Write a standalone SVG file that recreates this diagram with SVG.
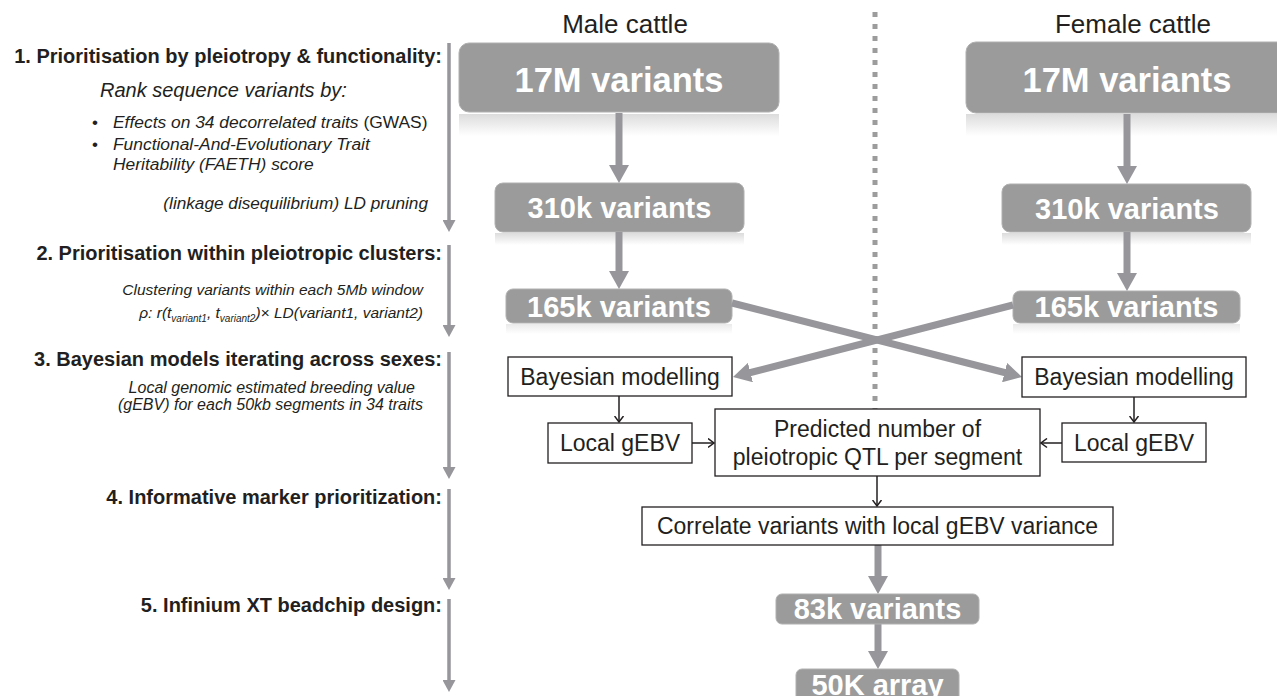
<svg xmlns="http://www.w3.org/2000/svg" width="1277" height="696" viewBox="0 0 1277 696">
<style>
text{font-family:"Liberation Sans",Arial,sans-serif;fill:#231f20}
.h{font-weight:bold;font-size:20px;text-anchor:end}
.it{font-style:italic}
.gb{fill:#9b9b9b;stroke:#b0b0b0;stroke-width:1}
.gt{fill:#ffffff;font-weight:bold;text-anchor:middle}
.wb{fill:#ffffff;stroke:#231f20;stroke-width:1.3}
.wt{font-size:23px;text-anchor:middle}
.garr{stroke:#96969b;stroke-width:7;fill:none;marker-end:url(#gh)}
.larr{stroke:#96969b;stroke-width:3.5;fill:none;marker-end:url(#lh)}
.barr{stroke:#231f20;stroke-width:1.5;fill:none;marker-end:url(#bh)}
.title{font-size:26px;text-anchor:middle}
</style>
<defs>
<marker id="gh" markerUnits="userSpaceOnUse" markerWidth="18" markerHeight="20" refX="8" refY="10" orient="auto" viewBox="0 0 18 20">
<path d="M0,0 L18,10 L0,20 z" fill="#96969b"/>
</marker>
<marker id="lh" markerUnits="userSpaceOnUse" markerWidth="12" markerHeight="13" refX="4" refY="6.5" orient="auto" viewBox="0 0 12 13">
<path d="M0,0 L12,6.5 L0,13 z" fill="#96969b"/>
</marker>
<marker id="bh" markerUnits="userSpaceOnUse" markerWidth="8" markerHeight="11" refX="6.5" refY="5.5" orient="auto" viewBox="0 0 8 11">
<path d="M0.5,1 L6.5,5.5 L0.5,10" fill="none" stroke="#231f20" stroke-width="1.5"/>
</marker>
<linearGradient id="refl" x1="0" y1="0" x2="0" y2="1">
<stop offset="0" stop-color="#dcdcdc"/>
<stop offset="1" stop-color="#ffffff"/>
</linearGradient>
</defs>
<rect width="1277" height="696" fill="#ffffff"/>

<g id="left-steps">
<text class="h" x="442" y="63">1. Prioritisation by pleiotropy &amp; functionality:</text>
<text class="it" x="100" y="97" font-size="20">Rank sequence variants by:</text>
<text x="92" y="128" font-size="17">•</text>
<text class="it" x="113" y="128" font-size="17.4">Effects on 34 decorrelated traits <tspan font-style="normal">(GWAS)</tspan></text>
<text x="92" y="150" font-size="17">•</text>
<text class="it" x="113" y="150" font-size="17.4">Functional-And-Evolutionary Trait</text>
<text class="it" x="113" y="170" font-size="17.4">Heritability (FAETH) score</text>
<text class="it" x="428" y="209" font-size="17.2" text-anchor="end">(linkage disequilibrium) LD pruning</text>

<text class="h" x="442" y="260">2. Prioritisation within pleiotropic clusters:</text>
<text class="it" x="423" y="295" font-size="15.5" text-anchor="end">Clustering variants within each 5Mb window</text>
<text class="it" x="423" y="318" font-size="15.5" text-anchor="end">ρ: r(t<tspan font-size="10" dy="4">variant1</tspan><tspan dy="-4">, t</tspan><tspan font-size="10" dy="4">variant2</tspan><tspan dy="-4">)× LD(variant1, variant2)</tspan></text>

<text class="h" x="442" y="366">3. Bayesian models iterating across sexes:</text>
<text class="it" x="415" y="393" font-size="16" text-anchor="end">Local genomic estimated breeding value</text>
<text class="it" x="423" y="410" font-size="16" text-anchor="end">(gEBV) for each 50kb segments in 34 traits</text>

<text class="h" x="442" y="504">4. Informative marker prioritization:</text>
<text class="h" x="442" y="612">5. Infinium XT beadchip design:</text>
</g>

<g id="titles">
<text class="title" x="625" y="33">Male cattle</text>
<text class="title" x="1133" y="33">Female cattle</text>
</g>

<g id="divider">
<line x1="875" y1="12" x2="875" y2="409" stroke="#9c9c9c" stroke-width="5" stroke-dasharray="5 7"/>
</g>

<g id="male-17M">
<rect x="459" y="114" width="320" height="22" fill="url(#refl)"/>
<rect class="gb" x="459" y="43" width="320" height="69" rx="10"/>
<text class="gt" x="619" y="92" font-size="34.5">17M variants</text>
</g>
<g id="female-17M">
<rect x="966" y="114" width="322" height="22" fill="url(#refl)"/>
<rect class="gb" x="966" y="42" width="322" height="71" rx="10"/>
<text class="gt" x="1127" y="92" font-size="34.5">17M variants</text>
</g>
<g id="male-310k">
<rect x="495" y="233" width="249" height="12" fill="url(#refl)"/>
<rect class="gb" x="495" y="183" width="249" height="49" rx="8"/>
<text class="gt" x="619.5" y="218" font-size="29">310k variants</text>
</g>
<g id="female-310k">
<rect x="1002" y="233" width="249" height="12" fill="url(#refl)"/>
<rect class="gb" x="1002" y="184" width="249" height="48" rx="8"/>
<text class="gt" x="1127" y="219" font-size="29">310k variants</text>
</g>
<g id="male-165k">
<rect x="506" y="324" width="226" height="10" fill="url(#refl)" opacity="0.6"/>
<rect class="gb" x="506" y="289" width="226" height="34" rx="7"/>
<text class="gt" x="619" y="317" font-size="29">165k variants</text>
</g>
<g id="female-165k">
<rect x="1013" y="324" width="227" height="10" fill="url(#refl)" opacity="0.6"/>
<rect class="gb" x="1013" y="291" width="227" height="32" rx="7"/>
<text class="gt" x="1126.5" y="317" font-size="29">165k variants</text>
</g>

<g id="connectors">
<line class="larr" x1="449" y1="43" x2="449" y2="224"/>
<line class="larr" x1="449" y1="245" x2="449" y2="329"/>
<line class="larr" x1="449" y1="352" x2="449" y2="471"/>
<line class="larr" x1="449" y1="489" x2="449" y2="582"/>
<line class="larr" x1="449" y1="599" x2="449" y2="684"/>

<line class="garr" x1="619" y1="113" x2="619" y2="173"/>
<line class="garr" x1="1127" y1="114" x2="1127" y2="174"/>
<line class="garr" x1="619" y1="232" x2="619" y2="279"/>
<line class="garr" x1="1127" y1="232" x2="1127" y2="281"/>
<line class="garr" x1="732" y1="303" x2="1012.3" y2="374.5" stroke-width="6.5"/>
<line class="garr" x1="1013" y1="305" x2="742.7" y2="374.5" stroke-width="6.5"/>
<line class="garr" x1="878" y1="545" x2="878" y2="584"/>
<line class="garr" x1="878" y1="624" x2="878" y2="659"/>

<line class="barr" x1="619" y1="396" x2="619" y2="422"/>
<line class="barr" x1="1134" y1="397" x2="1134" y2="422"/>
<line class="barr" x1="692" y1="443" x2="714" y2="443"/>
<line class="barr" x1="1062" y1="443" x2="1041" y2="443"/>
<line class="barr" x1="877" y1="476" x2="877" y2="506"/>
</g>

<g id="male-bayesian">
<rect class="wb" x="508" y="357" width="224" height="39"/>
<text class="wt" x="620" y="385">Bayesian modelling</text>
</g>
<g id="female-bayesian">
<rect class="wb" x="1022" y="357" width="224" height="40"/>
<text class="wt" x="1134" y="385">Bayesian modelling</text>
</g>
<g id="male-local">
<rect class="wb" x="548" y="423" width="144" height="40"/>
<text class="wt" x="620" y="451">Local gEBV</text>
</g>
<g id="female-local">
<rect class="wb" x="1062" y="423" width="144" height="39"/>
<text class="wt" x="1134" y="451">Local gEBV</text>
</g>
<g id="predicted">
<rect class="wb" x="715" y="409" width="325" height="67"/>
<text class="wt" x="877.5" y="437">Predicted number of</text>
<text class="wt" x="877.5" y="465">pleiotropic QTL per segment</text>
</g>
<g id="correlate">
<rect class="wb" x="642" y="507" width="471" height="38"/>
<text class="wt" x="877.5" y="534">Correlate variants with local gEBV variance</text>
</g>
<g id="v83k">
<rect class="gb" x="776" y="594" width="203" height="30" rx="6"/>
<text class="gt" x="877.5" y="619" font-size="29">83k variants</text>
</g>
<g id="array50k">
<rect class="gb" x="796" y="669" width="163" height="40" rx="6"/>
<text class="gt" x="877.5" y="695" font-size="29">50K array</text>
</g>
</svg>
